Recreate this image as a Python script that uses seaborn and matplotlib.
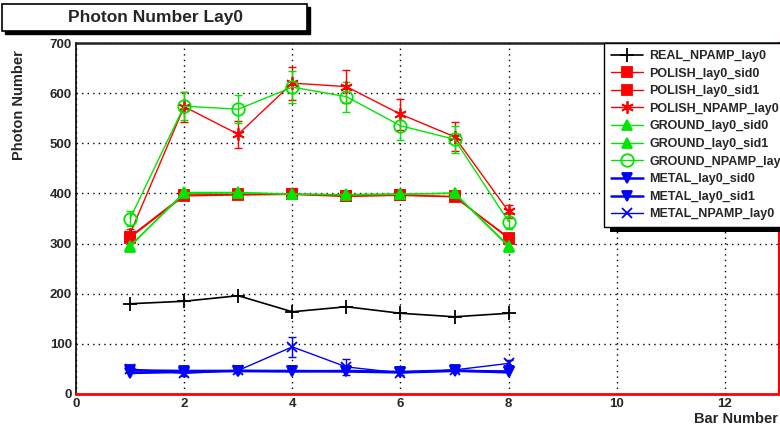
import numpy as np
import pandas as pd
import matplotlib
matplotlib.use("Agg")
import matplotlib.pyplot as plt
from matplotlib.patches import Rectangle
from matplotlib.ticker import MultipleLocator
import seaborn as sns

bars = [1, 2, 3, 4, 5, 6, 7, 8]

real_npamp = [180, 185, 196, 164, 174, 161, 154, 161]
polish_sid0 = [314, 397, 398, 399, 395, 396, 394, 310]
polish_sid1 = [312, 395, 397, 398, 394, 397, 393, 312]
polish_npamp = [320, 573, 518, 620, 613, 558, 513, 364]
polish_npamp_err = [10, 30, 27, 33, 33, 31, 29, 13]
ground_sid0 = [294, 402, 402, 398, 398, 399, 400, 294]
ground_sid1 = [296, 400, 401, 399, 397, 398, 401, 296]
ground_npamp = [350, 574, 568, 612, 593, 535, 508, 344]
ground_npamp_err = [15, 28, 28, 32, 30, 28, 27, 15]
metal_sid0 = [47, 46, 46, 45, 46, 44, 47, 43]
metal_sid1 = [42, 44, 46, 46, 45, 43, 46, 45]
metal_npamp = [50, 41, 47, 94, 54, 42, 48, 61]
metal_npamp_err = [5, 5, 5, 20, 16, 5, 5, 6]

series_names = ["REAL_NPAMP_lay0", "POLISH_lay0_sid0", "POLISH_lay0_sid1",
                "POLISH_NPAMP_lay0", "GROUND_lay0_sid0", "GROUND_lay0_sid1",
                "GROUND_NPAMP_lay0", "METAL_lay0_sid0", "METAL_lay0_sid1",
                "METAL_NPAMP_lay0"]

W, H = 780, 429
fig = plt.figure(figsize=(W / 100, H / 100), dpi=100)
sns.set_style("white")
plt.rcParams['font.family'] = ['Liberation Sans', 'DejaVu Sans']
plt.rcParams['font.weight'] = 'bold'

ax = fig.add_axes([76 / W, 1 - 394 / H, (779 - 76) / W, (394 - 43) / H])
ax.set_facecolor("white")

RED = (1, 0, 0)
GREEN = (0, 0.9, 0)
BLUE = (0, 0, 1)

specs = [
    (real_npamp, None, "black", "+", 10, True, 1.2),
    (polish_sid0, None, RED, "s", 7, True, 1.0),
    (polish_sid1, None, RED, "s", 7, True, 1.0),
    (polish_npamp, polish_npamp_err, RED, (6, 2, 0), 9, True, 1.0),
    (ground_sid0, None, GREEN, "^", 7, True, 1.0),
    (ground_sid1, None, GREEN, "^", 7, True, 1.0),
    (ground_npamp, ground_npamp_err, GREEN, "o", 9, False, 1.0),
    (metal_sid0, None, BLUE, "v", 7, True, 1.8),
    (metal_sid1, None, BLUE, "v", 7, True, 1.8),
    (metal_npamp, metal_npamp_err, BLUE, "x", 7, True, 1.0),
]

for name, (vals, err, col, mk, ms, filled, lw) in zip(series_names, specs):
    df = pd.DataFrame({"bar": bars, "value": vals})
    if err is not None:
        ax.errorbar(bars, vals, yerr=err, fmt="none", ecolor=col,
                    elinewidth=1.0, capsize=3, capthick=1.0, zorder=2)
    sns.lineplot(data=df, x="bar", y="value", ax=ax, color=col, marker=mk,
                 markersize=ms, markeredgecolor=col,
                 markerfacecolor=(col if filled else "none"),
                 markeredgewidth=1.3, linewidth=lw, errorbar=None,
                 label=name, legend=False, zorder=3)

ax.set_xlim(0, 13)
ax.set_ylim(0, 700)
ax.xaxis.set_major_locator(MultipleLocator(2))
ax.xaxis.set_minor_locator(MultipleLocator(0.5))
ax.yaxis.set_major_locator(MultipleLocator(100))
ax.yaxis.set_minor_locator(MultipleLocator(20))
ax.set_xticks([0, 2, 4, 6, 8, 10, 12])
ax.set_xticklabels(["0", "2", "4", "6", "8", "10", "12"])
ax.tick_params(axis="both", which="major", direction="in", length=8,
               width=1, labelsize=9.5, color="black")
ax.tick_params(axis="both", which="minor", direction="in", length=4.3,
               width=1, color="black")
ax.tick_params(axis="x", pad=3)
ax.tick_params(axis="y", pad=3)
for lab in ax.get_xticklabels() + ax.get_yticklabels():
    lab.set_fontweight("bold")
ax.grid(True, which="major", color="black", linestyle=(0, (1, 3)), linewidth=1)
ax.set_axisbelow(True)

ax.spines["left"].set_color("black")
ax.spines["left"].set_linewidth(1.2)
ax.spines["top"].set_color("#222222")
ax.spines["top"].set_linewidth(1.8)
ax.spines["bottom"].set_color("red")
ax.spines["bottom"].set_linewidth(2)
ax.spines["right"].set_color("red")
ax.spines["right"].set_linewidth(1.5)

ax.set_xlabel("")
ax.set_ylabel("")
fig.text(778 / W, 1 - 419 / H, "Bar Number", ha="right", va="center",
         fontsize=10.5, fontweight="bold")
fig.text(19 / W, 1 - 105 / H, "Photon Number", ha="center", va="center",
         rotation=90, fontsize=10.5, fontweight="bold")

# Title box with shadow
fig.patches.append(Rectangle((5 / W, 1 - 34 / H), 305 / W, 27 / H,
                             transform=fig.transFigure, facecolor="black",
                             edgecolor="black", zorder=5))
fig.patches.append(Rectangle((2 / W, 1 - 31 / H), 305 / W, 27 / H,
                             transform=fig.transFigure, facecolor="white",
                             edgecolor="black", linewidth=1.2, zorder=6))
fig.text(155 / W, 1 - 17.5 / H, "Photon Number Lay0", ha="center",
         va="center", fontsize=12.5, fontweight="bold", zorder=7)

handles, labels = ax.get_legend_handles_labels()
leg = fig.legend(handles, labels, loc="upper left",
                 bbox_to_anchor=(604 / W, 1 - 43 / H),
                 bbox_transform=fig.transFigure,
                 frameon=True, fancybox=False, framealpha=1,
                 edgecolor="black", fontsize=9, handlelength=2.6,
                 handletextpad=0.5, labelspacing=0.45, borderpad=0.55,
                 borderaxespad=0, prop={"weight": "bold", "size": 9})
leg.get_frame().set_linewidth(1.0)
leg.set_zorder(8)

# Legend shadow placed from the legend's real extent
fig.canvas.draw()
bb = leg.get_frame().get_window_extent()
x0, y0 = bb.x0, bb.y0
fig.patches.append(Rectangle(((x0 + 6) / W, (y0 - 5) / H), (W - x0) / W,
                             6 / H, transform=fig.transFigure,
                             facecolor="black", edgecolor="none", zorder=4))

fig.savefig("out.png", dpi=100)
